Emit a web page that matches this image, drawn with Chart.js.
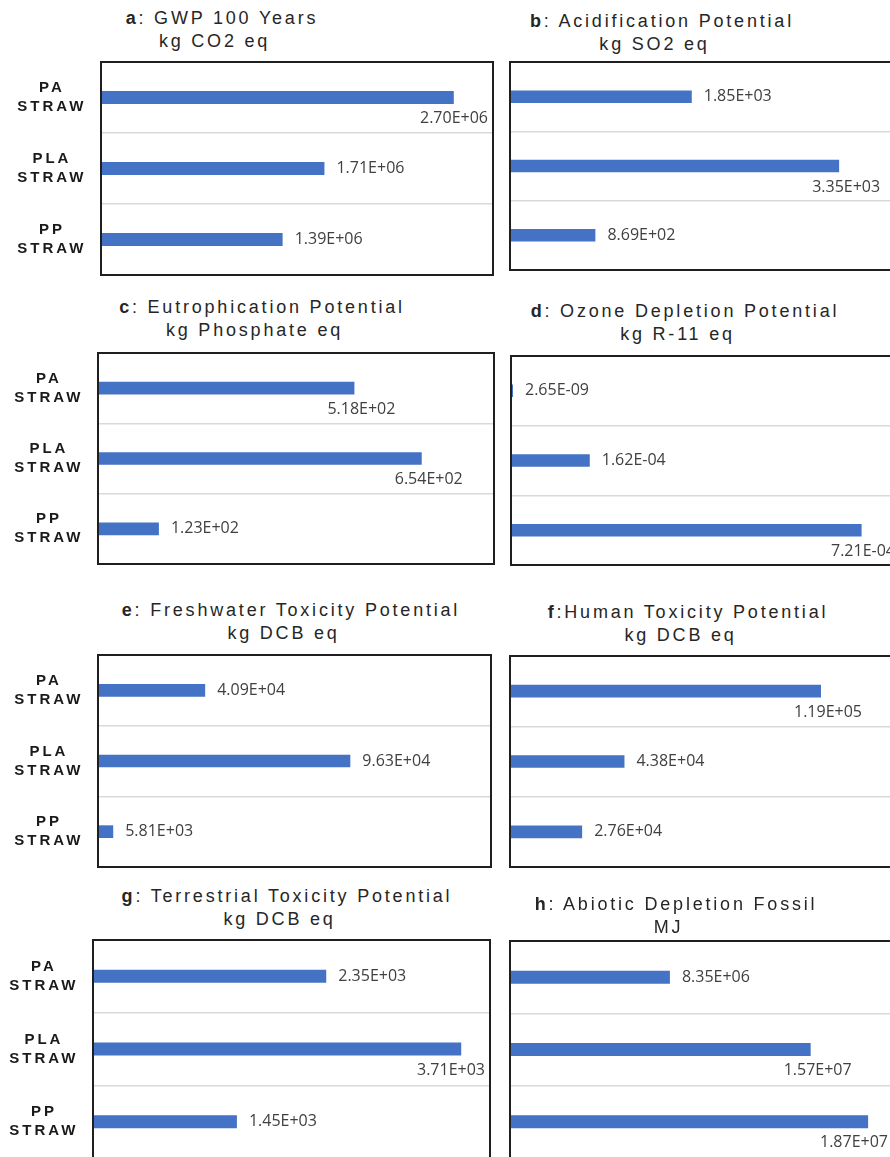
<!DOCTYPE html>
<html>
<head>
<meta charset="utf-8">
<script src="https://cdn.jsdelivr.net/npm/chart.js@4.4.1/dist/chart.umd.min.js"></script>
<style>
  body { margin: 0; background: #fff; }
  #page { position: relative; width: 890px; height: 1157px; overflow: hidden; background: #fff; }
  .panel { position: absolute; }
  .title {
    position: absolute; width: 400px; text-align: center; white-space: nowrap;
    font-family: "Liberation Sans", Arial, sans-serif; font-size: 18px; line-height: 22.5px;
    letter-spacing: 2.8px; color: #262626;
  }
  .title .unit { display: block; padding-right: 15px; }
</style>
</head>
<body>
<div id="page"></div>
<script>
// straw types (y categories)
const straws = [['PA', 'STRAW'], ['PLA', 'STRAW'], ['PP', 'STRAW']];

// impact results per straw type: PA, PLA, PP
const gwp = [2.70e6, 1.71e6, 1.39e6];
const acidification = [1.85e3, 3.35e3, 8.69e2];
const eutrophication = [5.18e2, 6.54e2, 1.23e2];
const ozoneDepletion = [2.65e-9, 1.62e-4, 7.21e-4];
const freshwaterTox = [4.09e4, 9.63e4, 5.81e3];
const humanTox = [1.19e5, 4.38e4, 2.76e4];
const terrestrialTox = [2.35e3, 3.71e3, 1.45e3];
const abioticFossil = [8.35e6, 1.57e7, 1.87e7];

// x axis upper limit of each panel
const axisMax = [3e6, 4e3, 8e2, 8e-4, 1.5e5, 1.5e5, 4e3, 2e7];

// panel titles
const panelLetters = ['a', 'b', 'c', 'd', 'e', 'f', 'g', 'h'];
const panelNames = [': GWP 100 Years', ': Acidification Potential', ': Eutrophication Potential',
  ': Ozone Depletion Potential', ': Freshwater Toxicity Potential', ':Human Toxicity Potential',
  ': Terrestrial Toxicity Potential', ': Abiotic Depletion Fossil'];
const panelUnits = ['kg CO2 eq', 'kg SO2 eq', 'kg Phosphate eq', 'kg R-11 eq',
  'kg DCB eq', 'kg DCB eq', 'kg DCB eq', 'MJ'];

const series = [gwp, acidification, eutrophication, ozoneDepletion,
  freshwaterTox, humanTox, terrestrialTox, abioticFossil];

// plot frames [left, top, right, bottom] and title placement [centre x, top]
const frames = [
  [101, 62, 493, 275], [510, 62, 903, 270],
  [98, 353, 494, 564], [511, 356, 900, 565],
  [98, 655, 491, 867], [510, 656, 902, 867],
  [93, 940, 490, 1158], [510, 941, 893, 1158]
];
const titlePos = [
  [222, 7], [662, 10], [262, 296], [685, 300],
  [291, 599], [688, 601], [287, 885], [676, 893]
];

// 2.70E+06 style numbers
function sci(v) {
  const [m, e] = v.toExponential(2).toUpperCase().split('E');
  const sign = e[0] === '-' ? '-' : '+';
  return m + 'E' + sign + e.replace(/[+-]/, '').padStart(2, '0');
}

const panelFrame = {
  id: 'panelFrame',
  beforeDraw(chart) { chart.ctx.letterSpacing = '3px'; },
  beforeDatasetsDraw(chart) { chart.ctx.letterSpacing = '0px'; },
  afterDatasetsDraw(chart) {
    const { ctx, chartArea: a } = chart;
    const max = chart.scales.x.max;
    const values = chart.data.datasets[0].data;
    ctx.save();
    ctx.font = '16px "Open Sans"';
    ctx.fillStyle = '#404040';
    ctx.textBaseline = 'middle';
    chart.getDatasetMeta(0).data.forEach((bar, j) => {
      const text = sci(values[j]);
      if (values[j] / max > 0.645) {
        // long bars get their value tucked underneath the bar end
        const w = ctx.measureText(text).width;
        ctx.textAlign = 'center';
        ctx.fillText(text, Math.min(bar.x + 7, a.right - 5 - w / 2), bar.y + 21);
      } else {
        ctx.textAlign = 'left';
        ctx.fillText(text, bar.x + 12, bar.y);
      }
    });
    ctx.restore();
  },
  afterDraw(chart) {
    const { ctx, chartArea: a } = chart;
    ctx.save();
    ctx.strokeStyle = '#1f1f1f';
    ctx.lineWidth = 2;
    ctx.strokeRect(a.left, a.top, a.right - a.left, a.bottom - a.top);
    ctx.restore();
  }
};

const page = document.getElementById('page');

series.forEach((values, i) => {
  const [bl, bt, br, bb] = frames[i];
  const col = i % 2;
  const x0 = col ? 495 : 0;

  const title = document.createElement('div');
  title.className = 'title';
  title.style.left = (titlePos[i][0] - 200) + 'px';
  title.style.top = titlePos[i][1] + 'px';
  title.innerHTML = '<b>' + panelLetters[i] + '</b>' + panelNames[i] +
    '<span class="unit">' + panelUnits[i] + '</span>';
  page.appendChild(title);

  const box = document.createElement('div');
  box.className = 'panel';
  box.style.left = x0 + 'px';
  box.style.top = (bt - 4) + 'px';
  box.style.width = (br - x0 + 4) + 'px';
  box.style.height = (bb - bt + 8) + 'px';
  const canvas = document.createElement('canvas');
  box.appendChild(canvas);
  page.appendChild(box);

  new Chart(canvas, {
    type: 'bar',
    data: {
      labels: straws,
      datasets: [{
        data: values,
        backgroundColor: '#4472c4',
        borderWidth: 0,
        barPercentage: 0.18,
        categoryPercentage: 1,
        minBarLength: 2
      }]
    },
    options: {
      indexAxis: 'y',
      responsive: true,
      maintainAspectRatio: false,
      animation: false,
      layout: { padding: { left: 0, top: 4, right: 4, bottom: 4 } },
      plugins: { legend: { display: false }, tooltip: { enabled: false } },
      scales: {
        x: { display: false, min: 0, max: axisMax[i] },
        y: {
          afterFit: s => {
            s.width = bl - x0;
            s.paddingTop = 0;
            s.paddingBottom = 0;
          },
          border: { display: false },
          grid: { color: '#d9d9d9', lineWidth: 1.5, drawTicks: false },
          ticks: {
            display: col === 0,
            crossAlign: 'center',
            padding: 22,
            color: '#1a1a1a',
            font: { family: 'Liberation Sans', size: 15, weight: 'bold', lineHeight: 19 / 15 }
          }
        }
      }
    },
    plugins: [panelFrame]
  });
});
</script>
</body>
</html>
